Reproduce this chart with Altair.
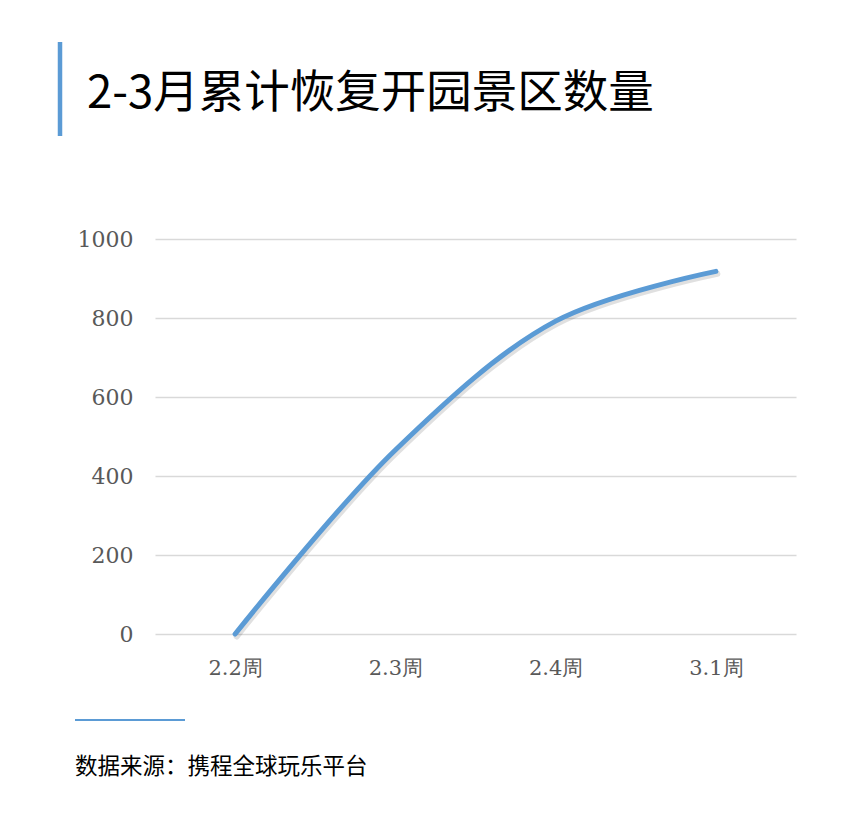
import altair as alt
import pandas as pd

title_text = ["2-3月累计恢复开园景区数量"]
source_text = ["数据来源：携程全球玩乐平台"]
weeks = ["2.2周", "2.3周", "2.4周", "3.1周"]
counts = [0, 466, 792, 918]

df = pd.DataFrame({"week": weeks, "count": counts})

BLUE = "#5b9bd5"

x_enc = alt.X("week:N", sort=weeks, title=None,
              scale=alt.Scale(type="point", padding=0.5),
              axis=alt.Axis(labelAngle=0, ticks=False, domain=False, grid=False,
                            labelPadding=23, labelFont="DejaVu Serif", labelFontSize=21,
                            labelColor="#595959"))
y_enc = alt.Y("count:Q", title=None,
              scale=alt.Scale(domain=[0, 1000], nice=False),
              axis=alt.Axis(values=[0, 200, 400, 600, 800, 1000], format="d", ticks=False,
                            domain=False, grid=True, gridColor="#d9d9d9", gridWidth=1.5,
                            labelPadding=22, labelFont="DejaVu Serif", labelFontSize=22,
                            labelColor="#595959"))

shadow = alt.Chart(df).mark_line(
    interpolate="catmull-rom", color="#000000", opacity=0.12, strokeWidth=6,
    strokeCap="round", xOffset=1.5, yOffset=2.5
).encode(x=x_enc, y=y_enc)

line = alt.Chart(df).mark_line(
    interpolate="catmull-rom", color=BLUE, strokeWidth=5, strokeCap="round"
).encode(x=x_enc, y=y_enc)

title_df = pd.DataFrame({"t": title_text})
title = alt.Chart(title_df).mark_text(
    align="left", baseline="alphabetic", font="Noto Sans CJK SC", fontSize=45.5,
    color="#000000"
).encode(x=alt.value(-68), y=alt.value(-131), text="t:N")

bar = alt.Chart(title_df).mark_rule(color=BLUE, strokeWidth=4.5).encode(
    x=alt.value(-95), y=alt.value(-197), y2=alt.value(-103))

src_df = pd.DataFrame({"t": source_text})
source = alt.Chart(src_df).mark_text(
    align="left", baseline="alphabetic", font="Noto Sans CJK SC", fontSize=22.5,
    color="#000000"
).encode(x=alt.value(-80), y=alt.value(535), text="t:N")

src_rule = alt.Chart(src_df).mark_rule(color=BLUE, strokeWidth=2).encode(
    x=alt.value(-80), x2=alt.value(30), y=alt.value(481))

chart = alt.layer(shadow, line, title, bar, source, src_rule).properties(
    width=641, height=395,
    autosize=alt.AutoSizeParams(type="none"),
    padding={"left": 147, "top": 231, "right": 50, "bottom": 180},
    background="white",
).configure_view(stroke=None)

chart.save("out.html", embed_options={"renderer": "svg", "actions": False})
